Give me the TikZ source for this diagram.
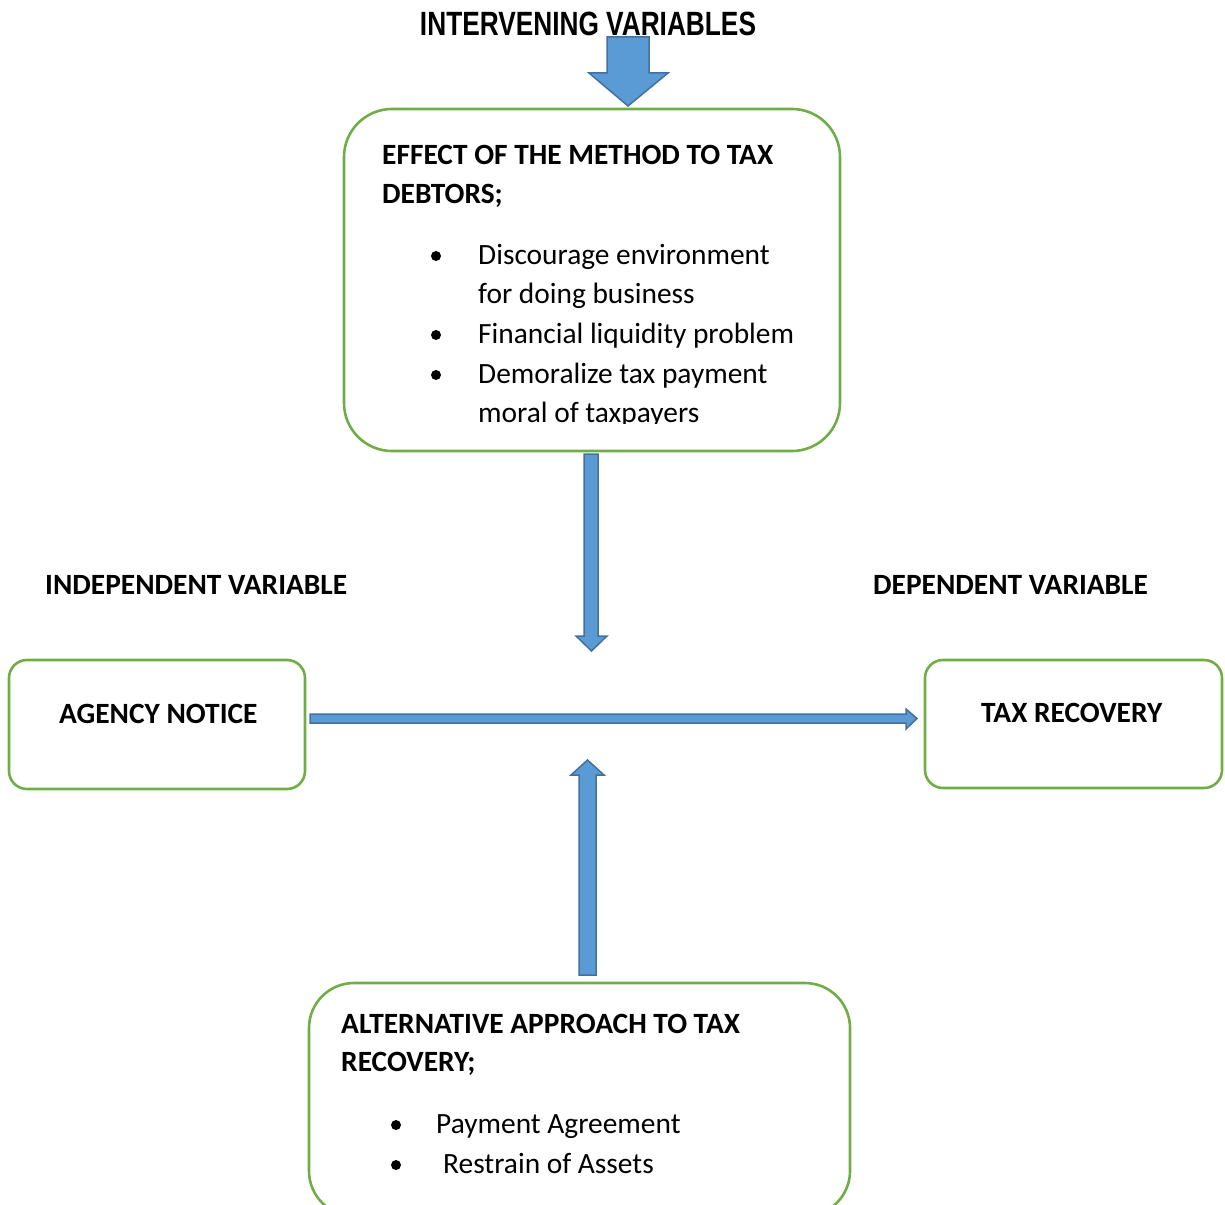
\documentclass[tikz,border=0pt]{standalone}
\usepackage{fontspec}
\setmainfont{Carlito}
\newfontfamily\arialfont{Liberation Sans}
\definecolor{boxgreen}{HTML}{70AD47}
\definecolor{arrowblue}{HTML}{5B9BD5}
\definecolor{arrowedge}{HTML}{41719C}
\begin{document}
\begin{tikzpicture}[x=1pt,y=-1pt,
  box/.style={draw=boxgreen, line width=2.6pt},
  blockarrow/.style={fill=arrowblue, draw=arrowedge, line width=1.5pt, line join=miter},
  hd/.style={font=\fontsize{29.4}{34}\selectfont\bfseries, anchor=base west, inner sep=0pt},
  tx/.style={font=\fontsize{29.4}{34}\selectfont, anchor=base west, inner sep=0pt},
  dot/.style={circle, fill=black, inner sep=0pt, minimum size=10pt},
]
\useasboundingbox (0,0) rectangle (1225,1204);
\clip (0,0) rectangle (1225,1204);

% title
\node[anchor=base, inner sep=0pt] (title) at (588,36)
  {\resizebox{336pt}{23.5pt}{\arialfont\bfseries\fontsize{26}{30}\selectfont INTERVENING VARIABLES}};

% boxes
\draw[box, rounded corners=48pt] (344,109) rectangle (840,451);
\node[inner sep=0pt, minimum width=496pt, minimum height=342pt] (topbox) at (592,280) {};
\draw[box, rounded corners=18pt] (9,660) rectangle (305,789);
\node[inner sep=0pt, minimum width=296pt, minimum height=129pt] (agbox) at (157,724.5) {};
\draw[box, rounded corners=18pt] (925,660) rectangle (1222,788);
\node[inner sep=0pt, minimum width=297pt, minimum height=128pt] (trbox) at (1073.5,724) {};
\draw[box, rounded corners=45pt] (309,983) rectangle (850,1216);
\node[inner sep=0pt, minimum width=541pt, minimum height=233pt] (altbox) at (579.5,1099.5) {};

% block arrows
\draw[blockarrow] (607,37) -- (649,37) -- (649,73) -- (668,73) -- (628,106) -- (589,73) -- (607,73) -- cycle;
\draw[blockarrow] (584,454) -- (598,454) -- (598,636) -- (607,636) -- (591.5,651) -- (576,636) -- (584,636) -- cycle;
\draw[blockarrow] (310,714) -- (906,714) -- (906,709) -- (917,718.5) -- (906,729) -- (906,723) -- (310,723) -- cycle;
\draw[blockarrow] (579,975) -- (596,975) -- (596,775) -- (604,775) -- (587.5,760) -- (571,775) -- (579,775) -- cycle;

% top box text
\node[hd] (t1) at (382,164) {EFFECT OF THE METHOD TO TAX};
\node[hd] (t2) at (382,203) {DEBTORS;};
\begin{scope}
\clip (345,110) rectangle (839,423);
\node[dot] (b1) at (436,256) {};
\node[tx] (t3) at (478,264) {Discourage environment};
\node[tx] (t4) at (478,303) {for doing business};
\node[dot] (b2) at (436,335) {};
\node[tx] (t5) at (478,343) {Financial liquidity problem};
\node[dot] (b3) at (436,375) {};
\node[tx] (t6) at (478,383) {Demoralize tax payment};
\node[tx] (t7) at (478,422) {moral of taxpayers};
\end{scope}

% side labels
\node[hd] (indep) at (45,594) {INDEPENDENT VARIABLE};
\node[hd] (dep) at (873,594) {DEPENDENT VARIABLE};
\node[hd] (ag) at (59,723) {AGENCY NOTICE};
\node[hd] (tr) at (981,722) {TAX RECOVERY};

% bottom box text
\node[hd] (a1) at (341,1033) {ALTERNATIVE APPROACH TO TAX};
\node[hd] (a2) at (341,1071) {RECOVERY;};
\node[dot] (b4) at (396,1125) {};
\node[tx] (a3) at (436,1133) {Payment Agreement};
\node[dot] (b5) at (396,1165) {};
\node[tx] (a4) at (443,1173) {Restrain of Assets};
\end{tikzpicture}
\end{document}
